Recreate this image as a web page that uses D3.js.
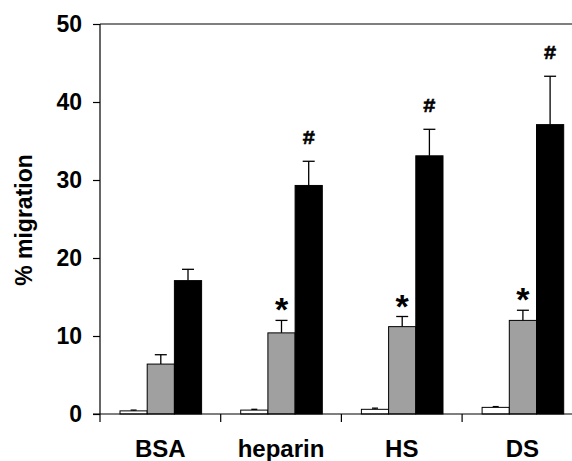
<!DOCTYPE html>
<html>
<head>
<meta charset="utf-8">
<script src="https://cdn.jsdelivr.net/npm/d3@7"></script>
<style>
  html, body { margin: 0; padding: 0; background: #fff; }
  svg { display: block; font-family: "Liberation Sans", Arial, sans-serif; }
</style>
</head>
<body>
<svg id="chart" width="572" height="461"></svg>
<script>
// ---- data ----
const categories = ["BSA", "heparin", "HS", "DS"];
const series = ["control", "low", "high"];
const controlValues = [0.4, 0.5, 0.6, 0.85];
const controlErrors = [0.1, 0.1, 0.15, 0.1];
const lowValues = [6.4, 10.4, 11.2, 12.0];
const lowErrors = [1.2, 1.6, 1.3, 1.3];
const highValues = [17.1, 29.3, 33.1, 37.1];
const highErrors = [1.45, 3.1, 3.4, 6.2];
const lowMarks = ["", "*", "*", "*"];
const highMarks = ["", "#", "#", "#"];
const yTicks = [0, 10, 20, 30, 40, 50];
const seriesColors = ["#ffffff", "#a0a0a0", "#000000"];

(function () {
const svg = d3.select("#chart");
const mLeft = 100, mTop = 24, mBottom = 414;

const x = d3.scaleBand().domain(categories).range([mLeft, mLeft + 4 * 120.7]).paddingInner(0).paddingOuter(0);
const xs = d3.scaleBand().domain(series).range([20, 20 + 3 * 27.2]).padding(0);
const y = d3.scaleLinear().domain([0, 50]).range([mBottom, mTop]);

const valuesBySeries = [controlValues, lowValues, highValues];
const errorsBySeries = [controlErrors, lowErrors, highErrors];

const rows = [];
series.forEach((s, si) => {
  categories.forEach((c, ci) => {
    rows.push({ cat: c, s: s, si: si, v: valuesBySeries[si][ci], e: errorsBySeries[si][ci], ci: ci });
  });
});

// error bars
const eg = svg.append("g");
rows.forEach(d => {
  const cx = x(d.cat) + xs(d.s) + xs.bandwidth() / 2;
  const yt = y(d.v + d.e);
  eg.append("line").attr("x1", cx).attr("x2", cx).attr("y1", y(d.v)).attr("y2", yt)
    .attr("stroke", "#000").attr("stroke-width", 1.3);
  const cap = d.si === 0 ? 3 : 6;
  eg.append("line").attr("x1", cx - cap).attr("x2", cx + cap).attr("y1", yt).attr("y2", yt)
    .attr("stroke", "#000").attr("stroke-width", 1.3);
});

// bars
svg.append("g").selectAll("rect").data(rows).join("rect")
  .attr("x", d => x(d.cat) + xs(d.s))
  .attr("y", d => y(d.v))
  .attr("width", xs.bandwidth())
  .attr("height", d => y(0) - y(d.v))
  .attr("fill", d => seriesColors[d.si])
  .attr("stroke", "#000")
  .attr("stroke-width", 1);

// significance marks
categories.forEach((c, ci) => {
  if (lowMarks[ci]) {
    svg.append("text")
      .attr("x", x(c) + xs("low") + xs.bandwidth() / 2)
      .attr("y", y(lowValues[ci] + lowErrors[ci]) + 1)
      .attr("text-anchor", "middle").attr("font-weight", "bold").attr("font-size", 34)
      .text(lowMarks[ci]);
  }
  if (highMarks[ci]) {
    svg.append("text")
      .attr("x", x(c) + xs("high") + xs.bandwidth() / 2)
      .attr("y", y(highValues[ci] + highErrors[ci]) - 17)
      .attr("text-anchor", "middle").attr("font-weight", "bold").attr("font-size", 21)
      .attr("font-family", "Liberation Mono, DejaVu Sans Mono, monospace")
      .attr("stroke", "#000").attr("stroke-width", 0.6)
      .text(highMarks[ci]);
  }
});

// y axis
const yAxis = svg.append("g").attr("transform", `translate(${mLeft},0)`)
  .call(d3.axisLeft(y).tickValues(yTicks).tickSize(7).tickPadding(11));
yAxis.select(".domain").remove();
yAxis.append("line").attr("x1", 0).attr("x2", 0).attr("y1", mTop).attr("y2", mBottom + 8)
  .attr("stroke", "#000").attr("stroke-width", 1.2);
yAxis.selectAll(".tick line").attr("stroke", "#000").attr("stroke-width", 1.2);
yAxis.selectAll(".tick text").attr("font-size", 23).attr("font-weight", "bold").attr("fill", "#000")
  .attr("font-family", "Liberation Sans, Arial, sans-serif");

// top border line
svg.append("line").attr("x1", mLeft).attr("x2", 572).attr("y1", mTop).attr("y2", mTop)
  .attr("stroke", "#000").attr("stroke-width", 1.2);

// x axis
svg.append("line").attr("x1", mLeft - 7).attr("x2", 572).attr("y1", mBottom).attr("y2", mBottom)
  .attr("stroke", "#000").attr("stroke-width", 1.2);
const xg = svg.append("g");
categories.forEach(c => {
  if (c !== categories[0]) {
    xg.append("line").attr("x1", x(c)).attr("x2", x(c)).attr("y1", mBottom).attr("y2", mBottom + 8)
      .attr("stroke", "#000").attr("stroke-width", 1.2);
  }
  xg.append("text").attr("x", x(c) + x.bandwidth() / 2).attr("y", 457)
    .attr("text-anchor", "middle").attr("font-weight", "bold").attr("font-size", 24)
    .text(c);
});

// y label
svg.append("text").attr("transform", "translate(32,220) rotate(-90)")
  .attr("text-anchor", "middle").attr("font-weight", "bold").attr("font-size", 23)
  .text("% migration");
})();
</script>
</body>
</html>
